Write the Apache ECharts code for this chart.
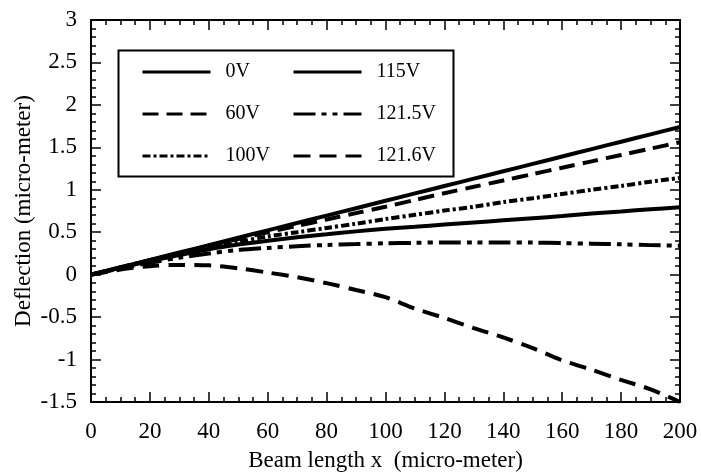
<!DOCTYPE html>
<html>
<head>
<meta charset="utf-8">
<script src="https://cdn.jsdelivr.net/npm/echarts@6/dist/echarts.min.js"></script>
<style>
  html, body { margin: 0; padding: 0; background: #fff; }
  #main { width: 701px; height: 472px; }
</style>
</head>
<body>
<div id="main"></div>
<script>
// beam position (micro-meter)
var beamX = [0, 10, 20, 30, 40, 50, 60, 70, 80, 90, 100, 110, 120, 130, 140, 150, 160, 170, 180, 190, 200];

// deflection (micro-meter) per applied voltage
var v0V    = [0, 0.087, 0.174, 0.261, 0.348, 0.435, 0.522, 0.609, 0.696, 0.783, 0.87, 0.957, 1.044, 1.131, 1.218, 1.305, 1.392, 1.479, 1.566, 1.653, 1.74];
var v60V   = [0, 0.085, 0.17, 0.255, 0.34, 0.42, 0.50, 0.575, 0.65, 0.725, 0.80, 0.88, 0.96, 1.035, 1.11, 1.185, 1.26, 1.335, 1.41, 1.485, 1.56];
var v100V  = [0, 0.085, 0.17, 0.245, 0.32, 0.385, 0.45, 0.50, 0.55, 0.60, 0.655, 0.705, 0.755, 0.80, 0.855, 0.90, 0.95, 1.0, 1.045, 1.095, 1.14];
var v115V  = [0, 0.08, 0.16, 0.23, 0.30, 0.355, 0.40, 0.44, 0.475, 0.51, 0.54, 0.565, 0.59, 0.615, 0.64, 0.665, 0.69, 0.72, 0.745, 0.77, 0.795];
var v1215V = [0, 0.075, 0.14, 0.20, 0.25, 0.29, 0.315, 0.335, 0.35, 0.36, 0.37, 0.375, 0.38, 0.38, 0.38, 0.378, 0.372, 0.365, 0.357, 0.348, 0.34];
var v1216V = [0, 0.06, 0.10, 0.115, 0.11, 0.075, 0.025, -0.03, -0.10, -0.18, -0.265, -0.40, -0.51, -0.63, -0.74, -0.865, -1.01, -1.12, -1.24, -1.35, -1.5];

var seriesNames = ['0V', '60V', '100V', '115V', '121.5V', '121.6V'];
var seriesData = [v0V, v60V, v100V, v115V, v1215V, v1216V];
var dashTypes = ['solid', [16, 8], [8, 3, 3, 3], 'solid', [22, 6, 5, 6, 5, 6], [17, 9]];

var font = 'Liberation Serif';

function pairs(xs, ys) {
  var out = [];
  for (var i = 0; i < xs.length; i++) out.push([xs[i], ys[i]]);
  return out;
}

var chart = echarts.init(document.getElementById('main'));

var series = seriesNames.map(function (name, i) {
  return {
    name: name,
    type: 'line',
    data: pairs(beamX, seriesData[i]),
    symbol: 'none',
    smooth: 0.3,
    color: '#000',
    lineStyle: { color: '#000', width: 4, type: dashTypes[i] },
    animation: false
  };
});

function legendCol(names, left) {
  return {
    data: names,
    orient: 'vertical',
    left: left,
    top: 57,
    itemWidth: 68,
    itemHeight: 14,
    itemGap: 22,
    selectedMode: false,
    lineStyle: { width: 3 },
    itemStyle: { opacity: 0 },
    textStyle: { fontFamily: font, fontSize: 20, color: '#000', padding: [0, 0, 0, 10] }
  };
}

var frameAxisLine = { show: true, onZero: false, lineStyle: { color: '#000', width: 2 } };
var majorTick = { inside: true, length: 10, lineStyle: { color: '#000', width: 1.5 } };

var option = {
  backgroundColor: '#fff',
  animation: false,
  grid: { left: 91, right: 21, top: 20, bottom: 70, outerBoundsMode: 'none' },
  legend: [
    legendCol(seriesNames.slice(0, 3), 136),
    legendCol(seriesNames.slice(3), 287)
  ],
  graphic: [{
    type: 'rect',
    left: 116, top: 48,
    shape: { width: 335, height: 126 },
    style: { fill: 'none', stroke: '#000', lineWidth: 2 }
  }],
  xAxis: [{
    type: 'value', min: 0, max: 200, interval: 20,
    name: 'Beam length x  (micro-meter)',
    nameLocation: 'middle', nameGap: 47,
    nameTextStyle: { fontFamily: font, fontSize: 23, color: '#000' },
    axisLine: frameAxisLine,
    axisTick: majorTick,
    minorTick: { show: true, splitNumber: 4, length: 5, lineStyle: { color: '#000', width: 1.5 } },
    splitLine: { show: false },
    axisLabel: { fontFamily: font, fontSize: 23, color: '#000', margin: 18 }
  }, {
    type: 'value', min: 0, max: 200, interval: 20, position: 'top',
    axisLine: frameAxisLine,
    axisTick: majorTick,
    minorTick: { show: true, splitNumber: 4, length: 5, lineStyle: { color: '#000', width: 1.5 } },
    splitLine: { show: false },
    axisLabel: { show: false }
  }],
  yAxis: [{
    type: 'value', min: -1.5, max: 3, interval: 0.5,
    name: 'Deflection (micro-meter)',
    nameLocation: 'middle', nameGap: 56, nameMoveOverlap: false,
    nameTextStyle: { fontFamily: font, fontSize: 23, color: '#000' },
    axisLine: frameAxisLine,
    axisTick: majorTick,
    minorTick: { show: true, splitNumber: 5, length: 5, lineStyle: { color: '#000', width: 1.5 } },
    splitLine: { show: false },
    axisLabel: { fontFamily: font, fontSize: 23, color: '#000', margin: 14 }
  }, {
    type: 'value', min: -1.5, max: 3, interval: 0.5, position: 'right',
    axisLine: frameAxisLine,
    axisTick: majorTick,
    minorTick: { show: true, splitNumber: 5, length: 5, lineStyle: { color: '#000', width: 1.5 } },
    splitLine: { show: false },
    axisLabel: { show: false }
  }],
  series: series
};

chart.setOption(option);
</script>
</body>
</html>
